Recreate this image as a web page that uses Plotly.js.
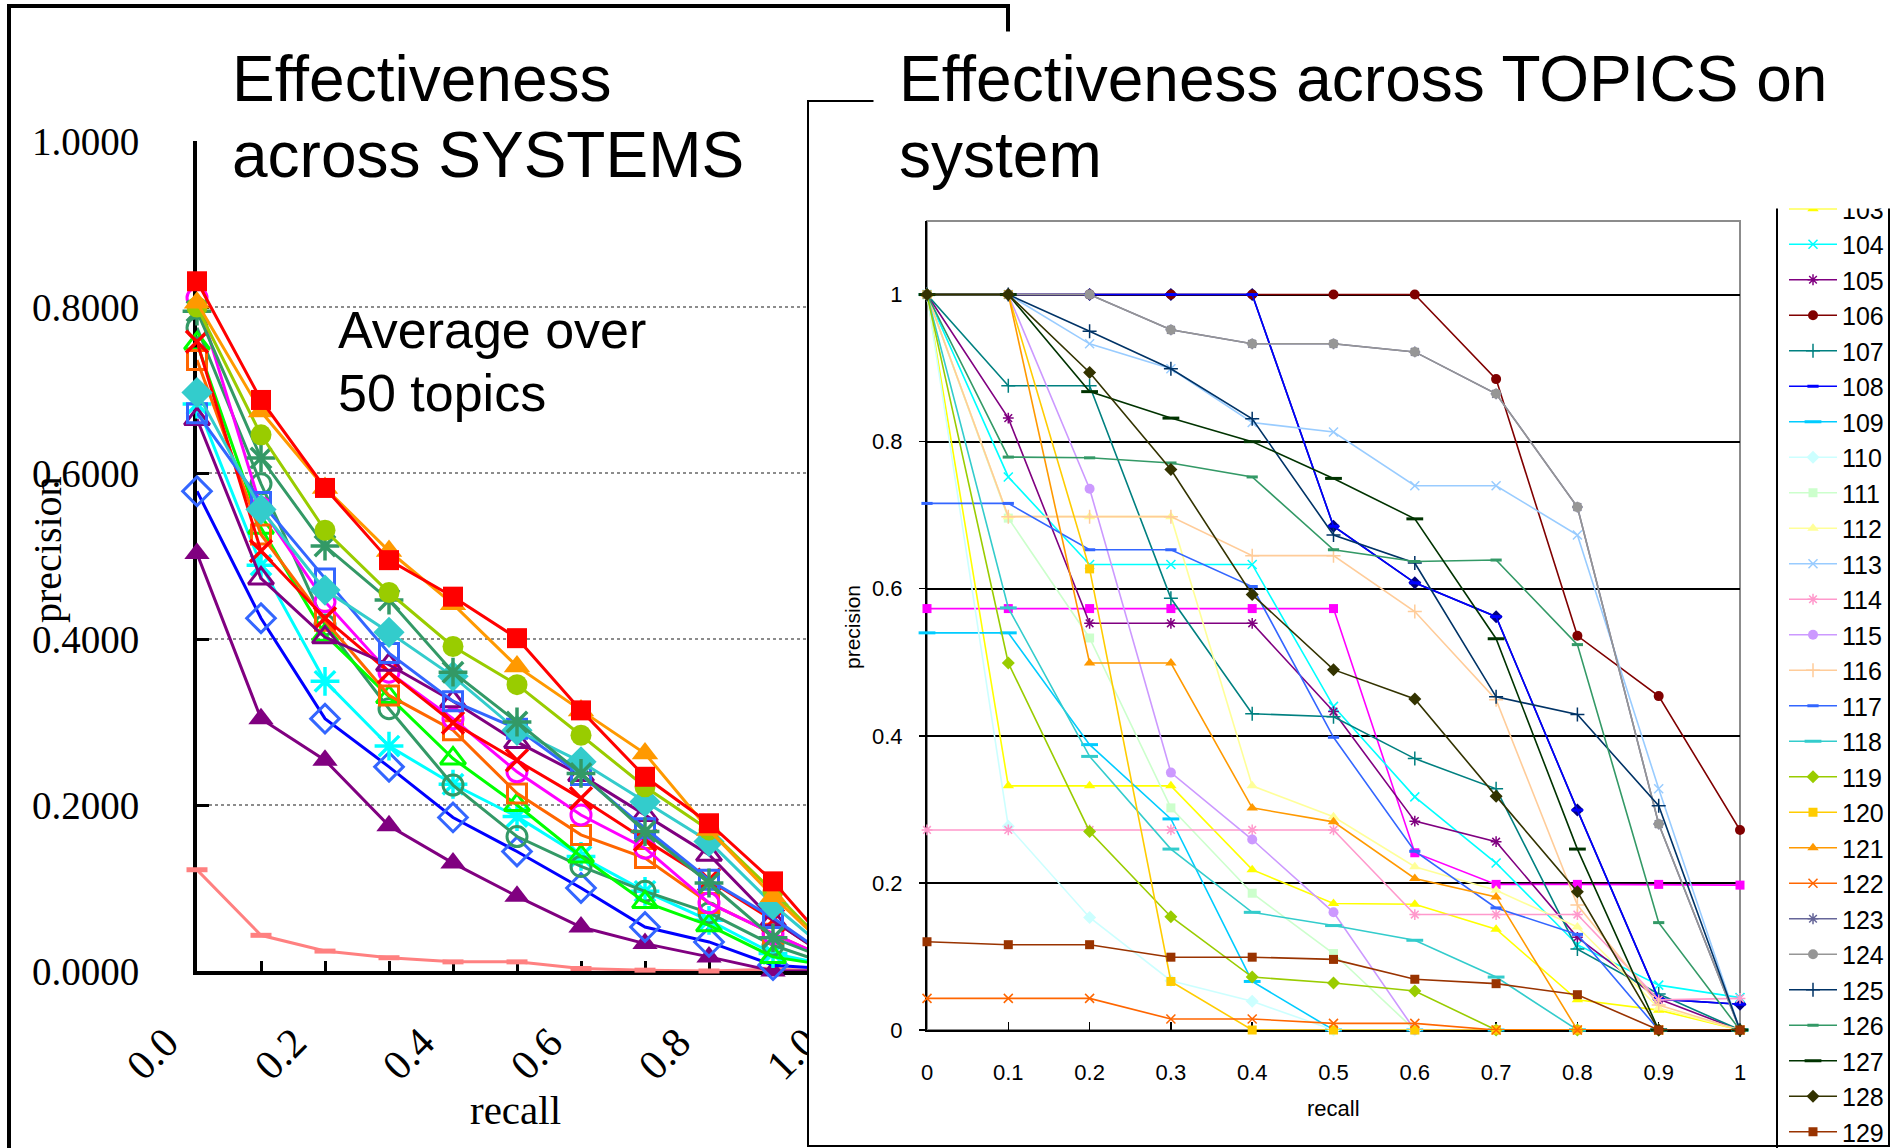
<!DOCTYPE html>
<html><head><meta charset="utf-8">
<script src="https://cdn.plot.ly/plotly-3.0.1.min.js"></script>
<style>
html,body{margin:0;padding:0;background:#fff;width:1896px;height:1148px;overflow:hidden}
#L,#R{position:absolute;left:0;top:0;width:1896px;height:1148px}
#R{pointer-events:none}
</style></head><body>
<div id="L"></div><div id="R"></div>
<script>
// ---------- shared ----------
const recall = [0, 0.1, 0.2, 0.3, 0.4, 0.5, 0.6, 0.7, 0.8, 0.9, 1.0];

// ---------- left chart: average precision per system ----------
const sysRedSquare     = [0.831, 0.688, 0.582, 0.495, 0.451, 0.401, 0.314, 0.234, 0.178, 0.108, 0.020];
const sysOrangeTri     = [0.805, 0.674, 0.582, 0.506, 0.442, 0.367, 0.314, 0.262, 0.170, 0.090, 0.017];
const sysGreenCircle   = [0.800, 0.646, 0.531, 0.456, 0.391, 0.345, 0.284, 0.222, 0.170, 0.096, 0.018];
const sysSeaStar       = [0.795, 0.618, 0.512, 0.447, 0.360, 0.300, 0.238, 0.168, 0.106, 0.040, 0.010];
const sysMagentaCircle = [0.811, 0.558, 0.445, 0.360, 0.304, 0.240, 0.188, 0.148, 0.082, 0.045, 0.010];
const sysTealCircle    = [0.775, 0.587, 0.417, 0.316, 0.224, 0.162, 0.126, 0.096, 0.070, 0.031, 0.005];
const sysLimeTri       = [0.756, 0.534, 0.405, 0.330, 0.256, 0.200, 0.138, 0.083, 0.055, 0.017, 0.005];
const sysOrangeSquare  = [0.736, 0.526, 0.422, 0.332, 0.290, 0.214, 0.164, 0.136, 0.082, 0.045, 0.010];
const sysTurqDiamond   = [0.697, 0.556, 0.459, 0.408, 0.355, 0.290, 0.252, 0.204, 0.156, 0.080, 0.015];
const sysCyanStar      = [0.683, 0.489, 0.349, 0.271, 0.225, 0.186, 0.138, 0.096, 0.061, 0.021, 0.005];
const sysBlueSquare    = [0.672, 0.565, 0.473, 0.383, 0.325, 0.292, 0.236, 0.172, 0.110, 0.064, 0.010];
const sysPurpleTriOpen = [0.665, 0.473, 0.402, 0.369, 0.325, 0.276, 0.236, 0.188, 0.140, 0.061, 0.010];
const sysRedX          = [0.758, 0.506, 0.425, 0.360, 0.299, 0.254, 0.208, 0.158, 0.110, 0.061, 0.010];
const sysBlueDiamond   = [0.578, 0.425, 0.304, 0.246, 0.185, 0.144, 0.100, 0.053, 0.035, 0.007, 0.002];
const sysPurpleTri     = [0.503, 0.304, 0.254, 0.175, 0.130, 0.090, 0.053, 0.033, 0.017, 0.000, 0.000];
const sysSalmon        = [0.122, 0.043, 0.024, 0.016, 0.011, 0.011, 0.003, 0.001, 0.000, 0.002, 0.000];
const leftTickLabels = ['0.0', '0.2', '0.4', '0.6', '0.8', '1.0'];

// ---------- right chart: precision per topic ----------
const topicNames = ['101','102','103','104','105','106','107','108','109','110','111','112','113','114','115',
                    '116','117','118','119','120','121','122','123','124','125','126','127','128','129'];
const t101 = [1, 1, 1, 1, 1, 0.685, 0.608, 0.562, 0.299, 0.042, 0.035];
const t102 = [0.573, 0.573, 0.573, 0.573, 0.573, 0.573, 0.241, 0.198, 0.198, 0.198, 0.197];
const t103 = [1, 0.332, 0.332, 0.332, 0.218, 0.172, 0.171, 0.137, 0.041, 0.027, 0];
const t104 = [1, 0.752, 0.633, 0.633, 0.633, 0.440, 0.317, 0.227, 0.116, 0.061, 0.044];
const t105 = [1, 0.832, 0.553, 0.553, 0.553, 0.433, 0.284, 0.256, 0.126, 0.042, 0];
const t106 = [1, 1, 1, 1, 1, 1, 1, 0.885, 0.536, 0.454, 0.272];
const t107 = [1, 0.876, 0.876, 0.587, 0.430, 0.426, 0.369, 0.328, 0.110, 0.049, 0];
const t108 = [1, 1, 1, 1, 1, 0.685, 0.608, 0.562, 0.299, 0.042, 0.035];
const t109 = [0.540, 0.540, 0.388, 0.287, 0.066, 0, 0, 0, 0, 0, 0];
const t110 = [1, 0.277, 0.153, 0.067, 0.039, 0, 0, 0, 0, 0, 0];
const t111 = [1, 0.696, 0.533, 0.302, 0.186, 0.104, 0, 0, 0, 0, 0];
const t112 = [1, 0.698, 0.698, 0.698, 0.332, 0.290, 0.222, 0.190, 0.140, 0.030, 0];
const t113 = [1, 1, 0.933, 0.899, 0.826, 0.813, 0.740, 0.740, 0.673, 0.328, 0];
const t114 = [0.272, 0.272, 0.272, 0.272, 0.272, 0.272, 0.157, 0.157, 0.157, 0.041, 0.043];
const t115 = [1, 1, 0.736, 0.350, 0.259, 0.160, 0, 0, 0, 0, 0];
const t116 = [1, 0.698, 0.698, 0.698, 0.645, 0.645, 0.569, 0.449, 0.170, 0.034, 0];
const t117 = [0.716, 0.716, 0.653, 0.653, 0.603, 0.398, 0.243, 0.166, 0.130, 0, 0];
const t118 = [1, 0.574, 0.372, 0.246, 0.160, 0.142, 0.122, 0.072, 0, 0, 0];
const t119 = [1, 0.499, 0.270, 0.154, 0.072, 0.064, 0.053, 0, 0, 0, 0];
const t120 = [1, 1, 0.627, 0.066, 0, 0, 0, 0, 0, 0, 0];
const t121 = [1, 1, 0.499, 0.499, 0.302, 0.283, 0.206, 0.181, 0, 0, 0];
const t122 = [0.043, 0.043, 0.043, 0.015, 0.015, 0.009, 0.009, 0, 0, 0, 0];
const t123 = [1, 1, 1, 0.952, 0.933, 0.933, 0.922, 0.865, 0.711, 0.280, 0];
const t124 = [1, 1, 1, 0.952, 0.933, 0.933, 0.922, 0.865, 0.711, 0.280, 0];
const t125 = [1, 1, 0.950, 0.899, 0.831, 0.673, 0.635, 0.453, 0.429, 0.305, 0];
const t126 = [1, 0.779, 0.778, 0.771, 0.752, 0.653, 0.637, 0.639, 0.524, 0.146, 0];
const t127 = [1, 1, 0.868, 0.832, 0.800, 0.750, 0.695, 0.532, 0.246, 0, 0];
const t128 = [1, 1, 0.894, 0.762, 0.592, 0.490, 0.450, 0.318, 0.188, 0, 0];
const t129 = [0.120, 0.116, 0.116, 0.099, 0.099, 0.096, 0.069, 0.063, 0.048, 0, 0];
const topicValues = [t101,t102,t103,t104,t105,t106,t107,t108,t109,t110,t111,t112,t113,t114,t115,
                     t116,t117,t118,t119,t120,t121,t122,t123,t124,t125,t126,t127,t128,t129];

// ---------- styles ----------
const W = 1896, H = 1148;
const px = x => x / W;
const py = y => 1 - y / H;

const leftSeries = [
  {y: sysSalmon,        c: '#FF8080', s: 'line-ew-open',     z: 15, open: true,  lw: 5},
  {y: sysPurpleTri,     c: '#800080', s: 'triangle-up',      z: 22},
  {y: sysBlueDiamond,   c: '#3366FF', lc: '#0000FF', s: 'diamond-open', z: 22, open: true, lw: 3},
  {y: sysCyanStar,      c: '#00FFFF', s: 'asterisk-open',    z: 24, open: true, lw: 3.5},
  {y: sysTealCircle,    c: '#339966', s: 'circle-open',      z: 20, open: true, lw: 3},
  {y: sysLimeTri,       c: '#00FF00', s: 'triangle-up-open', z: 22, open: true, lw: 3},
  {y: sysOrangeSquare,  c: '#FF6600', s: 'square-open',      z: 19, open: true, lw: 3},
  {y: sysMagentaCircle, c: '#FF00FF', s: 'circle-open',      z: 20, open: true, lw: 3},
  {y: sysRedX,          c: '#FF0000', s: 'x-thin-open',      z: 22, open: true, lw: 3.5},
  {y: sysPurpleTriOpen, c: '#800080', s: 'triangle-up-open', z: 22, open: true, lw: 3},
  {y: sysBlueSquare,    c: '#3366FF', s: 'square-open',      z: 19, open: true, lw: 3},
  {y: sysTurqDiamond,   c: '#33CCCC', s: 'diamond',          z: 24},
  {y: sysSeaStar,       c: '#339966', s: 'asterisk-open',    z: 24, open: true, lw: 3.5},
  {y: sysGreenCircle,   c: '#99CC00', s: 'circle',           z: 21},
  {y: sysOrangeTri,     c: '#FF9900', s: 'triangle-up',      z: 23},
  {y: sysRedSquare,     c: '#FF0000', s: 'square',           z: 20}
];

const topicColors = ['#000080','#FF00FF','#FFFF00','#00FFFF','#800080','#800000','#008080','#0000FF','#00CCFF',
                     '#CCFFFF','#CCFFCC','#FFFF99','#99CCFF','#FF99CC','#CC99FF','#FFCC99','#3366FF','#33CCCC',
                     '#99CC00','#FFCC00','#FF9900','#FF6600','#666699','#969696','#003366','#339966','#003300',
                     '#333300','#993300'];
const markerCycle = [
  {s: 'diamond', z: 10}, {s: 'square', z: 9}, {s: 'triangle-up', z: 10},
  {s: 'x-thin-open', z: 9, open: true, lw: 1.5}, {s: 'asterisk-open', z: 9, open: true, lw: 1.5},
  {s: 'circle', z: 10}, {s: 'cross-thin-open', z: 10, open: true, lw: 1.5},
  {s: 'line-ew-open', z: 8, open: true, lw: 3}, {s: 'line-ew-open', z: 12, open: true, lw: 3}
];

// ---------- left figure ----------
const leftTraces = leftSeries.map(d => ({
  type: 'scatter', mode: 'lines+markers', x: recall, y: d.y, cliponaxis: false,
  line: {color: d.lc || d.c, width: 3},
  marker: {symbol: d.s, size: d.z, color: d.c,
           line: {color: d.c, width: d.open ? d.lw : 0}},
  hoverinfo: 'skip'
}));

const serif = 'Liberation Serif, Times New Roman, serif';
const sans = 'Liberation Sans, Arial, sans-serif';

const layoutL = {
  width: W, height: H, margin: {l: 0, r: 0, t: 0, b: 0, autoexpand: false},
  paper_bgcolor: '#fff', plot_bgcolor: '#fff', showlegend: false,
  xaxis: {
    domain: [px(197), px(837)], range: [0, 1], fixedrange: true,
    showgrid: false, zeroline: false, layer: 'below traces',
    showline: true, linecolor: '#000', linewidth: 4,
    tickmode: 'array', tickvals: [0, 0.2, 0.4, 0.6, 0.8, 1.0], ticktext: leftTickLabels,
    ticks: 'inside', ticklen: 10, tickwidth: 3, tickcolor: '#000',
    minor: {dtick: 0.1, tick0: 0, ticks: 'inside', ticklen: 10, tickwidth: 3, tickcolor: '#000', showgrid: false},
    tickangle: -45, tickfont: {family: serif, size: 42, color: '#000'},
    ticklabelshift: -31, ticklabelstandoff: 26
  },
  yaxis: {
    domain: [py(971), py(141)], range: [0, 1], fixedrange: true,
    zeroline: false, layer: 'below traces',
    showline: true, linecolor: '#000', linewidth: 4,
    dtick: 0.2, tick0: 0, tickformat: '.4f',
    ticks: 'inside', ticklen: 12, tickwidth: 3, tickcolor: '#000',
    showgrid: true, gridcolor: '#8c8c8c', gridwidth: 1.5, griddash: 'dot',
    tickfont: {family: serif, size: 39, color: '#000'}, ticklabelstandoff: 46
  },
  shapes: [
    {type: 'path', xref: 'paper', yref: 'paper',
     path: `M ${px(9)} ${py(1200)} L ${px(9)} ${py(6)} L ${px(1008)} ${py(6)} L ${px(1008)} ${py(60)}`,
     line: {color: '#000', width: 4}, layer: 'above'}
  ],
  annotations: [
    {xref: 'paper', yref: 'paper', x: px(213), y: py(31), xanchor: 'left', yanchor: 'top',
     width: 578, height: 168, text: ' ', bgcolor: '#fff', showarrow: false, borderpad: 0},
    {xref: 'paper', yref: 'paper', x: px(230), y: py(79), xanchor: 'left', yanchor: 'middle',
     text: 'Effectiveness', showarrow: false, font: {family: sans, size: 64, color: '#000'}},
    {xref: 'paper', yref: 'paper', x: px(230), y: py(155), xanchor: 'left', yanchor: 'middle',
     text: 'across SYSTEMS', showarrow: false, font: {family: sans, size: 64, color: '#000'}},
    {xref: 'paper', yref: 'paper', x: px(336), y: py(330), xanchor: 'left', yanchor: 'middle',
     text: 'Average over', showarrow: false, font: {family: sans, size: 52, color: '#000'}},
    {xref: 'paper', yref: 'paper', x: px(336), y: py(393), xanchor: 'left', yanchor: 'middle',
     text: '50 topics', showarrow: false, font: {family: sans, size: 52, color: '#000'}},
    {xref: 'paper', yref: 'paper', x: px(48), y: py(550), xanchor: 'center', yanchor: 'middle',
     text: 'precision', textangle: -90, showarrow: false, font: {family: serif, size: 40, color: '#000'}},
    {xref: 'paper', yref: 'paper', x: px(515), y: py(1110), xanchor: 'center', yanchor: 'middle',
     text: 'recall', showarrow: false, font: {family: serif, size: 41, color: '#000'}}
  ]
};

// ---------- right figure ----------
const rightTraces = topicValues.map((vals, i) => {
  const m = markerCycle[i % markerCycle.length];
  const c = topicColors[i];
  return {
    type: 'scatter', mode: 'lines+markers', name: topicNames[i], x: recall, y: vals, cliponaxis: false,
    line: {color: c, width: 1.6},
    marker: {symbol: m.s, size: m.z, color: c, line: {color: c, width: m.open ? m.lw : 0}},
    hoverinfo: 'skip'
  };
});

const layoutR = {
  width: W, height: H, margin: {l: 0, r: 0, t: 0, b: 0, autoexpand: false},
  paper_bgcolor: 'rgba(0,0,0,0)', plot_bgcolor: 'rgba(0,0,0,0)',
  showlegend: true,
  legend: {x: px(1784), y: py(115), xanchor: 'left', yanchor: 'top', bgcolor: 'rgba(0,0,0,0)',
           borderwidth: 0, font: {family: sans, size: 25, color: '#000'}, tracegroupgap: 0, itemwidth: 48},
  xaxis: {
    domain: [px(927), px(1740)], range: [0, 1], fixedrange: true,
    showgrid: false, zeroline: false, layer: 'below traces',
    showline: true, linecolor: '#000', linewidth: 2,
    dtick: 0.1, tick0: 0, ticks: 'inside', ticklen: 8, tickwidth: 1.5, tickcolor: '#000',
    tickfont: {family: sans, size: 22, color: '#000'}, ticklabelstandoff: 22
  },
  yaxis: {
    domain: [py(1030), py(221)], range: [0, 1.1], fixedrange: true,
    zeroline: false, layer: 'below traces',
    showline: true, linecolor: '#000', linewidth: 2,
    dtick: 0.2, tick0: 0, ticks: 'outside', ticklen: 6, tickwidth: 1.5, tickcolor: '#000',
    showgrid: true, gridcolor: '#000', gridwidth: 2,
    tickfont: {family: sans, size: 22, color: '#000'}, ticklabelstandoff: 12
  },
  shapes: [
    {type: 'rect', xref: 'paper', yref: 'paper', x0: px(808), x1: px(1889), y0: py(1146), y1: py(101),
     fillcolor: '#fff', line: {color: '#000', width: 2}, layer: 'below'},
    {type: 'rect', xref: 'paper', yref: 'paper', x0: px(927), x1: px(1740), y0: py(1030), y1: py(221),
     fillcolor: 'rgba(0,0,0,0)', line: {color: '#8c8c8c', width: 2}, layer: 'below'},
    {type: 'line', xref: 'paper', yref: 'paper', x0: px(1777), x1: px(1777), y0: py(1148), y1: py(205),
     line: {color: '#000', width: 2}, layer: 'below'}
  ],
  annotations: [
    {xref: 'paper', yref: 'paper', x: px(873), y: py(31), xanchor: 'left', yanchor: 'top',
     width: 1023, height: 176, text: ' ', bgcolor: '#fff', showarrow: false, borderpad: 0},
    {xref: 'paper', yref: 'paper', x: px(897), y: py(79), xanchor: 'left', yanchor: 'middle',
     text: 'Effectiveness across TOPICS on', showarrow: false, font: {family: sans, size: 64, color: '#000'}},
    {xref: 'paper', yref: 'paper', x: px(897), y: py(155), xanchor: 'left', yanchor: 'middle',
     text: 'system', showarrow: false, font: {family: sans, size: 64, color: '#000'}},
    {xref: 'paper', yref: 'paper', x: px(852), y: py(627), xanchor: 'center', yanchor: 'middle',
     text: 'precision', textangle: -90, showarrow: false, font: {family: sans, size: 21, color: '#000'}},
    {xref: 'paper', yref: 'paper', x: px(1333), y: py(1108), xanchor: 'center', yanchor: 'middle',
     text: 'recall', showarrow: false, font: {family: sans, size: 22, color: '#000'}}
  ]
};

const cfg = {staticPlot: true, displayModeBar: false};
Plotly.newPlot('L', leftTraces, layoutL, cfg);
Plotly.newPlot('R', rightTraces, layoutR, cfg);
</script>
</body></html>
